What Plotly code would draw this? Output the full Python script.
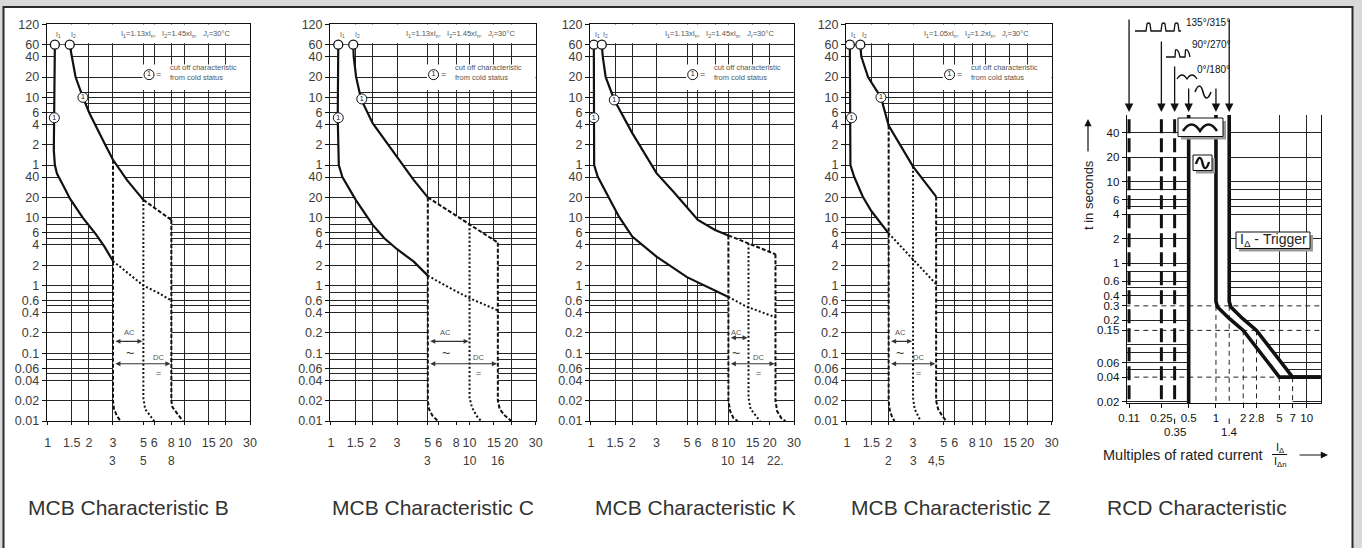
import re
import numpy as np
import plotly.graph_objects as go

W, H = 1362, 548
def px(x): return x / W
def py(y): return 1 - y / H
def lg(v): return float(np.log10(v))

FONT = "Liberation Sans, Arial, Helvetica, sans-serif"
INK = "#111111"
GRID = "#262626"
TXT = "#3c3c3c"

# ======================= DATA =======================
# shared MCB axes (time in seconds; upper part labelled in minutes)
mcb_ytick_vals = [7200, 3600, 2400, 1200, 600, 360, 240, 120, 60, 40, 20, 10, 6, 4, 2, 1,
                  0.6, 0.4, 0.2, 0.1, 0.06, 0.04, 0.02, 0.01]
mcb_ytick_text = ["120", "60", "40", "20", "10", "6", "4", "2", "1", "40", "20", "10", "6", "4",
                  "2", "1", "0.6", "0.4", "0.2", "0.1", "0.06", "0.04", "0.02", "0.01"]
mcb_ygrid_minor = [720, 480, 8, 5, 0.8, 0.5, 0.08, 0.05]
mcb_xtick_vals = [1, 1.5, 2, 3, 5, 6, 8, 10, 15, 20, 30]
mcb_xtick_text = ["1", "1.5", "2", "3", "5", "6", "8", "10", "15", "20", "30"]
mcb_xrange = [0.985, 30]
mcb_yrange = [0.01, 7200]
mcb_I_t = 3600
mcb_legend_x, mcb_legend_t = 5.5, 1300
mcb_legend_box = [4.93, 770, 1830]   # x-start, t-low, t-high of the legend panel

# --- Characteristic B ---
B_lower_x = [1.13, 1.12, 1.11, 1.13, 1.17, 1.30, 1.46, 1.81, 2.24, 2.6, 3.0]
B_lower_t = [3600, 300, 100, 60, 45, 30, 19, 10, 5.8, 3.75, 2.3]
B_lower_ext_x = [3.0, 3.9, 5.0, 6.5, 8.0]
B_lower_ext_t = [2.3, 1.48, 1.0, 0.77, 0.6]
B_upper_x = [1.45, 1.5, 1.6, 1.81, 2.02, 2.6, 3.0, 3.8, 4.8, 5.0]
B_upper_t = [3600, 2400, 1200, 600, 350, 126, 72, 36, 20.6, 18.4]
B_upper_ext_x = [5.0, 6.5, 8.0]
B_upper_ext_t = [18.4, 12.5, 9.3]
B_v1_x = [3.0, 3.0, 3.05, 3.2, 3.4];  B_v1_t = [72, 0.02, 0.015, 0.012, 0.01]
B_v2_x = [5.0, 5.0, 5.15, 5.6, 6.0];  B_v2_t = [18.4, 0.022, 0.015, 0.012, 0.01]
B_v3_x = [8.0, 8.0, 8.15, 8.8, 9.7];  B_v3_t = [9.3, 0.02, 0.016, 0.013, 0.01]
B_I = [1.13, 1.45]
B_cold_x = [1.12, 1.81]; B_cold_t = [300, 600]
B_marks = [3, 5, 8]; B_marks_text = ["3", "5", "8"]
B_header = ["1.13", "1.45"]
B_ac = [3, 5, 0.15]; B_dc = [3, 8, 0.07]
B_ac_label_x = 3.97; B_dc_label_x = 6.4

# --- Characteristic C ---
C_lower_x = [1.13, 1.12, 1.14, 1.21, 1.51, 2.0, 2.43, 3.0, 3.96, 5.0]
C_lower_t = [3600, 300, 60, 40, 18.4, 7.85, 5.0, 3.44, 2.25, 1.4]
C_lower_ext_x = [5, 7, 10, 13, 16]
C_lower_ext_t = [1.4, 0.95, 0.65, 0.52, 0.43]
C_upper_x = [1.45, 1.46, 1.52, 1.65, 2.0, 3.0, 3.96, 5.0]
C_upper_t = [3600, 2400, 1200, 565, 250, 80, 36, 20]
C_upper_ext_x = [5, 7, 10, 16]
C_upper_ext_t = [20, 12.9, 8.1, 4.3]
C_v1_x = [5, 5, 5.1, 5.4, 5.9];       C_v1_t = [20, 0.02, 0.015, 0.012, 0.01]
C_v2_x = [10, 10, 10.4, 11.2, 12.1];  C_v2_t = [8.1, 0.022, 0.016, 0.012, 0.01]
C_v3_x = [16, 16, 16.5, 18, 20];      C_v3_t = [4.3, 0.02, 0.015, 0.012, 0.01]
C_I = [1.13, 1.45]
C_cold_x = [1.13, 1.67]; C_cold_t = [300, 570]
C_marks = [5, 10, 16]; C_marks_text = ["3", "10", "16"]
C_header = ["1.13", "1.45"]
C_ac = [5, 10, 0.15]; C_dc = [5, 16, 0.07]
C_ac_label_x = 6.75; C_dc_label_x = 11.6

# --- Characteristic K ---
K_lower_x = [1.05, 1.05, 1.056, 1.12, 1.37, 1.6, 2.0, 3.0, 5.0, 10.0]
K_lower_t = [3600, 300, 60, 40.6, 18.4, 10.4, 5.3, 2.67, 1.33, 0.68]
K_lower_ext_x = [10, 13.5, 22]
K_lower_ext_t = [0.68, 0.49, 0.34]
K_upper_x = [1.2, 1.22, 1.28, 1.48, 2.0, 3.0, 4.0, 5.0, 6.0, 8.0, 10.0]
K_upper_t = [3600, 2400, 1200, 550, 178, 45.6, 24, 14, 9.3, 6.6, 5.5]
K_upper_ext_x = [10, 14, 22]
K_upper_ext_t = [5.5, 4.2, 2.9]
K_v1_x = [10, 10, 10.3, 10.9, 11.7];  K_v1_t = [5.5, 0.02, 0.014, 0.011, 0.01]
K_v2_x = [14, 14, 14.5, 15.7, 17];    K_v2_t = [4.2, 0.022, 0.015, 0.012, 0.01]
K_v3_x = [22, 22, 22.6, 24.3, 26];    K_v3_t = [2.9, 0.02, 0.014, 0.011, 0.01]
K_I = [1.05, 1.2]
K_cold_x = [1.05, 1.48]; K_cold_t = [300, 550]
K_marks = [10, 14, 22]; K_marks_text = ["10", "14", "22."]
K_header = ["1.13", "1.45"]
K_ac = [10, 14, 0.17]; K_dc = [10, 22, 0.07]
K_ac_label_x = 11.4; K_dc_label_x = 16.5

# --- Characteristic Z ---
Z_lower_x = [1.05, 1.05, 1.06, 1.13, 1.30, 1.5, 1.76, 2.0]
Z_lower_t = [3600, 300, 60, 40, 20.6, 12.6, 8.3, 5.9]
Z_lower_ext_x = [2, 3, 4.4]
Z_lower_ext_t = [5.9, 2.39, 1.05]
Z_upper_x = [1.25, 1.27, 1.42, 1.76, 2.0, 3.0, 4.4]
Z_upper_t = [3600, 2400, 1200, 600, 230, 57, 20.6]
Z_upper_ext_x = []
Z_upper_ext_t = []
Z_v1_x = [2, 2, 2.03, 2.1, 2.2];       Z_v1_t = [230, 0.02, 0.015, 0.012, 0.01]
Z_v2_x = [3, 3, 3.08, 3.25, 3.4];      Z_v2_t = [57, 0.022, 0.015, 0.012, 0.01]
Z_v3_x = [4.4, 4.4, 4.55, 4.85, 5.2];  Z_v3_t = [20.6, 0.02, 0.015, 0.012, 0.01]
Z_I = [1.05, 1.25]
Z_cold_x = [1.08, 1.76]; Z_cold_t = [300, 600]
Z_marks = [2, 3, 4.4]; Z_marks_text = ["2", "3", "4,5"]
Z_header = ["1.05", "1.2"]
Z_ac = [2, 3, 0.15]; Z_dc = [2, 4.4, 0.07]
Z_ac_label_x = 2.43; Z_dc_label_x = 3.3

# --- RCD characteristic ---
rcd_ytick_vals = [40, 20, 10, 6, 4, 2, 1, 0.6, 0.4, 0.3, 0.2, 0.15, 0.06, 0.04, 0.02]
rcd_ytick_text = ["40", "20", "10", "6", "4", "2", "1", "0.6", "0.4", "0.3", "0.2", "0.15",
                  "0.06", "0.04", "0.02"]
rcd_ygrid = [40, 20, 10, 8, 6, 5, 4, 2, 1, 0.8, 0.6, 0.5, 0.4, 0.2, 0.1, 0.08, 0.06, 0.05, 0.02]
rcd_xtick_vals = [0.11, 0.25, 0.5, 1, 2, 2.8, 5, 7, 10]
rcd_xtick_text = ["0.11", "0.25", "0.5", "1", "2", "2.8", "5", "7", "10"]
rcd_xtick_row2 = [0.35, 1.4]
rcd_xgrid = [5, 10]
rcd_xrange = [0.1036, 14.3]
rcd_yrange = [0.0191, 66]
rcd_span_t = [100, 0.01]
rcd_span_x = [0.1, 15]
rcd_pulse_x = [0.11, 0.25, 0.35]
rcd_limit_x = 0.5
rcd_inner_x = [1, 1, 1.04, 1.15, 1.4, 2, 3, 4, 5, 15]
rcd_inner_t = [100, 0.34, 0.29, 0.26, 0.21, 0.15, 0.084, 0.055, 0.04, 0.04]
rcd_outer_x = [1.4, 1.4, 1.46, 1.61, 1.96, 2.8, 4.2, 5.6, 7, 15]
rcd_outer_t = [100, 0.34, 0.29, 0.26, 0.21, 0.15, 0.084, 0.055, 0.04, 0.04]
rcd_ref_t = [0.3, 0.15, 0.04]
rcd_ref_x = [1, 1.4, 2, 2.8, 5, 7]
rcd_ref_xt = [0.3, 0.3, 0.15, 0.15, 0.04, 0.04]
rcd_arrow_x = [0.11, 0.25, 0.35, 0.5, 1, 1.4]

titles = ["MCB Characteristic B", "MCB Characteristic C", "MCB Characteristic K",
          "MCB Characteristic Z", "RCD Characteristic"]

# ======================= LAYOUT HELPERS =======================
def P(name):
    g = globals()
    keys = ["lower_x", "lower_t", "lower_ext_x", "lower_ext_t", "upper_x", "upper_t",
            "upper_ext_x", "upper_ext_t", "v1_x", "v1_t", "v2_x", "v2_t", "v3_x", "v3_t",
            "I", "cold_x", "cold_t", "marks", "marks_text", "header", "ac", "dc",
            "ac_label_x", "dc_label_x"]
    return {k: g[f"{name}_{k}"] for k in keys}

mcb_panels = [
    dict(d=P("B"), left=46.7, right=250.0, title_x=26),
    dict(d=P("C"), left=330.0, right=535.7, title_x=330),
    dict(d=P("K"), left=590.0, right=794.0, title_x=593),
    dict(d=P("Z"), left=846.0, right=1051.7, title_x=849),
]
MCB_TOP, MCB_BOT = 24.3, 421.0

fig = go.Figure()
layout = {}
annotations = []
shapes = []

def line(xs, ts, xa, ya, width=2.2, dash=None, color=INK):
    fig.add_trace(go.Scatter(x=xs, y=ts, xaxis=xa, yaxis=ya, mode="lines",
                             line=dict(color=color, width=width, dash=dash),
                             hoverinfo="skip", showlegend=False))

def white_fill(xs, ts, xa, ya):
    fig.add_trace(go.Scatter(x=xs, y=ts, xaxis=xa, yaxis=ya, mode="lines",
                             fill="toself", fillcolor="white",
                             line=dict(width=0, color="white"),
                             hoverinfo="skip", showlegend=False))

def ppath(s):
    return re.sub(r"(-?\d+(?:\.\d+)?),(-?\d+(?:\.\d+)?)",
                  lambda m: f"{px(float(m.group(1))):.5f},{py(float(m.group(2))):.5f}", s)

DASH = "4px,2px"
DOT = "2px,2.2px"

# ======================= MCB PANELS =======================
for i, p in enumerate(mcb_panels, start=1):
    d = p["d"]
    sfx = "" if i == 1 else str(i)
    xa, ya = "x" + sfx, "y" + sfx
    tickfont = dict(family=FONT, size=12.5, color=TXT)
    layout["xaxis" + sfx] = dict(
        type="log", range=[lg(mcb_xrange[0]), lg(mcb_xrange[1])],
        domain=[px(p["left"]), px(p["right"])], anchor=ya, automargin=False,
        tickmode="array", tickvals=mcb_xtick_vals, ticktext=mcb_xtick_text, tickangle=0,
        showgrid=True, gridcolor=GRID, gridwidth=1,
        showline=True, mirror=True, linecolor=INK, linewidth=1,
        ticks="outside", ticklen=3, tickcolor=INK, tickfont=tickfont,
        ticklabelstandoff=7, zeroline=False, fixedrange=True)
    layout["yaxis" + sfx] = dict(
        type="log", range=[lg(mcb_yrange[0]), lg(mcb_yrange[1])],
        domain=[py(MCB_BOT), py(MCB_TOP)], anchor=xa, automargin=False,
        tickmode="array", tickvals=mcb_ytick_vals, ticktext=mcb_ytick_text,
        showgrid=True, gridcolor=GRID, gridwidth=1,
        minor=dict(tickmode="array", tickvals=mcb_ygrid_minor, showgrid=True,
                   gridcolor=GRID, gridwidth=1, ticks=""),
        showline=True, mirror=True, linecolor=INK, linewidth=1,
        ticks="outside", ticklen=4, tickcolor=INK, tickfont=tickfont,
        zeroline=False, fixedrange=True)

    # white masks: strip above the 60-min line and the legend panel
    x0, x1 = mcb_xrange
    white_fill([x0, x1, x1, x0], [3780, 3780, mcb_yrange[1], mcb_yrange[1]], xa, ya)
    lb = mcb_legend_box
    white_fill([lb[0], x1, x1, lb[0]], [lb[1], lb[1], lb[2], lb[2]], xa, ya)

    # tripping band (white area hides the grid)
    poly_x = d["lower_x"] + d["v1_x"][1:] + d["v3_x"][::-1] + d["upper_ext_x"][::-1] + d["upper_x"][::-1]
    poly_t = d["lower_t"] + d["v1_t"][1:] + d["v3_t"][::-1] + d["upper_ext_t"][::-1] + d["upper_t"][::-1]
    white_fill(poly_x, poly_t, xa, ya)

    line(d["lower_x"], d["lower_t"], xa, ya)
    line(d["upper_x"], d["upper_t"], xa, ya)
    line(d["lower_ext_x"], d["lower_ext_t"], xa, ya, width=2, dash=DOT)
    if d["upper_ext_x"]:
        line(d["upper_ext_x"], d["upper_ext_t"], xa, ya, width=2, dash=DASH)
    line(d["v1_x"], d["v1_t"], xa, ya, width=2, dash=DASH)
    line(d["v2_x"], d["v2_t"], xa, ya, width=2, dash=DOT)
    line(d["v3_x"], d["v3_t"], xa, ya, width=2, dash=DASH)

    # I1 / I2 markers
    fig.add_trace(go.Scatter(x=d["I"], y=[mcb_I_t] * len(d["I"]), xaxis=xa, yaxis=ya,
                             mode="markers", hoverinfo="skip", showlegend=False,
                             marker=dict(symbol="circle", size=9, color="white",
                                         line=dict(color=INK, width=1.3))))
    # cold-status circles (+ legend circle)
    cx = d["cold_x"] + [mcb_legend_x]
    ct = d["cold_t"] + [mcb_legend_t]
    fig.add_trace(go.Scatter(x=cx, y=ct, xaxis=xa, yaxis=ya, mode="markers+text",
                             text=["1"] * len(cx), textposition="middle center",
                             textfont=dict(family=FONT, size=7, color=INK),
                             hoverinfo="skip", showlegend=False,
                             marker=dict(symbol="circle", size=10, color="white",
                                         line=dict(color=INK, width=1))))

    small = dict(family=FONT, size=7.5, color="#555555")
    for k, lab in enumerate(["I<sub>1</sub>", "I<sub>2</sub>"]):
        annotations.append(dict(xref=xa, yref=ya, x=lg(d["I"][k]), y=lg(mcb_I_t), text=lab,
                                showarrow=False, xshift=4, yshift=10,
                                font=dict(family=FONT, size=7, color="#555555")))
    h1, h2 = d["header"]
    annotations.append(dict(xref=xa + " domain", yref=ya + " domain", x=0.635, y=0.975,
                            text=f"I<sub>1</sub>={h1}xI<sub>n</sub>,   I<sub>2</sub>={h2}xI<sub>n</sub>,   J<sub>r</sub>=30°C",
                            showarrow=False, font=small))
    annotations.append(dict(xref=xa, yref=ya, x=lg(mcb_legend_x), y=lg(mcb_legend_t), text="=",
                            showarrow=False, xanchor="left", xshift=5, yshift=1,
                            font=dict(family=FONT, size=9, color="#444444")))
    annotations.append(dict(xref=xa, yref=ya, x=lg(mcb_legend_x), y=lg(mcb_legend_t),
                            text="cut off characteristic<br>from cold status", align="left",
                            showarrow=False, xanchor="left", xshift=19, yshift=2, font=small))

    # AC / DC ranges
    for (a, b, t) in [d["ac"], d["dc"]]:
        annotations.append(dict(xref=xa, yref=ya, axref=xa, ayref=ya, x=lg(b), y=lg(t),
                                ax=lg(a), ay=lg(t), text="", showarrow=True,
                                arrowside="end+start", arrowhead=2, startarrowhead=2,
                                arrowsize=0.9, startarrowsize=0.9, arrowwidth=1.1,
                                arrowcolor="#333333", standoff=1, startstandoff=1))
    annotations.append(dict(xref=xa, yref=ya, x=lg(d["ac_label_x"]), y=lg(0.2), text="AC",
                            showarrow=False, font=small))
    annotations.append(dict(xref=xa, yref=ya, x=lg(d["ac_label_x"]), y=lg(0.102), text="~",
                            showarrow=False, font=dict(family=FONT, size=14, color="#333333")))
    annotations.append(dict(xref=xa, yref=ya, x=lg(d["dc_label_x"]), y=lg(0.088), text="DC",
                            showarrow=False, font=small))
    annotations.append(dict(xref=xa, yref=ya, x=lg(d["dc_label_x"]), y=lg(0.052), text="=",
                            showarrow=False, font=dict(family=FONT, size=9, color="#444444")))

    # second row of x labels
    for v, tx in zip(d["marks"], d["marks_text"]):
        annotations.append(dict(xref=xa, yref="paper", x=lg(v), y=py(461), text=tx,
                                showarrow=False, font=dict(family=FONT, size=12, color=TXT)))
    annotations.append(dict(xref="paper", yref="paper", x=px(p["title_x"]), y=py(507),
                            xanchor="left", text=titles[i - 1], showarrow=False,
                            font=dict(family=FONT, size=21, color="#333333")))

# ======================= RCD PANEL =======================
xa, ya = "x5", "y5"
rfont = dict(family=FONT, size=11.5, color=INK)
layout["xaxis5"] = dict(
    type="log", range=[lg(rcd_xrange[0]), lg(rcd_xrange[1])],
    domain=[px(1126.7), px(1320.7)], anchor=ya, automargin=False,
    tickmode="array", tickvals=rcd_xtick_vals, ticktext=rcd_xtick_text, tickangle=0,
    showgrid=False,
    minor=dict(tickmode="array", tickvals=rcd_xgrid, showgrid=True, gridcolor=GRID,
               gridwidth=1, ticks=""),
    showline=True, mirror=False, linecolor=INK, linewidth=1,
    ticks="outside", ticklen=4, tickcolor=INK, tickfont=rfont, zeroline=False, fixedrange=True)
layout["yaxis5"] = dict(
    type="log", range=[lg(rcd_yrange[0]), lg(rcd_yrange[1])],
    domain=[py(403.3), py(115)], anchor=xa, automargin=False,
    tickmode="array", tickvals=rcd_ytick_vals, ticktext=rcd_ytick_text,
    showgrid=False,
    minor=dict(tickmode="array", tickvals=rcd_ygrid, showgrid=True, gridcolor=GRID,
               gridwidth=1, ticks=""),
    showline=True, mirror=True, linecolor=INK, linewidth=1,
    ticks="outside", ticklen=4, tickcolor=INK, tickfont=rfont, zeroline=False, fixedrange=True)

# white region between 0.5·IΔn limit and the tripping curves
rp_x = [rcd_limit_x, rcd_limit_x, rcd_outer_x[-2]] + rcd_outer_x[-2::-1]
rp_t = [rcd_span_t[0], rcd_span_t[1], rcd_span_t[1]] + rcd_outer_t[-2::-1]
white_fill(rp_x, rp_t, xa, ya)
# reference (dashed) lines
for t in rcd_ref_t:
    line(rcd_span_x, [t, t], xa, ya, width=1, dash="5px,4px", color="#222222")
for xv, t in zip(rcd_ref_x, rcd_ref_xt):
    line([xv, xv], [t, rcd_span_t[1]], xa, ya, width=1, dash="5px,4px", color="#222222")
# pulsating DC response lines
for xv in rcd_pulse_x:
    line([xv, xv], rcd_span_t, xa, ya, width=3, dash="14px,5px")
line([rcd_limit_x, rcd_limit_x], rcd_span_t, xa, ya, width=3.6)
line(rcd_inner_x, rcd_inner_t, xa, ya, width=3.6)
line(rcd_outer_x, rcd_outer_t, xa, ya, width=3.6)

# second row x labels
for v in rcd_xtick_row2:
    annotations.append(dict(xref=xa, yref="paper", x=lg(v), y=py(418.5), text=str(v),
                            showarrow=True, arrowhead=0, ax=0, ay=13, arrowwidth=1,
                            arrowcolor=INK, standoff=0, font=rfont))
# arrows at top
arrow_start = [18, 40, 65, 87, 87, 18]
for v, s in zip(rcd_arrow_x, arrow_start):
    annotations.append(dict(xref=xa, yref="paper", x=lg(v), y=py(112), ax=0, ay=-(112 - s),
                            text="", showarrow=True, arrowhead=2, arrowsize=1.3,
                            arrowwidth=1.3, arrowcolor=INK, standoff=0))
wav = dict(family=FONT, size=10, color=INK)
annotations += [
    dict(xref="paper", yref="paper", x=px(1184), y=py(23), xanchor="left", text="135°/315°", showarrow=False, font=wav),
    dict(xref="paper", yref="paper", x=px(1190), y=py(44.5), xanchor="left", text="90°/270°", showarrow=False, font=wav),
    dict(xref="paper", yref="paper", x=px(1195), y=py(69.5), xanchor="left", text="0°/180°", showarrow=False, font=wav),
]
icon = dict(color=INK, width=1.3)
shapes += [
    dict(type="path", xref="paper", yref="paper", layer="above", line=icon,
         path=ppath("M1135,31 L1146,31 L1147,24 Q1148.5,22 1150,24 L1151,31 L1161,31 L1162,24 "
                    "Q1163.5,22 1165,24 L1166,31 L1174,31 L1175,24 Q1176.5,22 1178,24 L1179,31 L1181,31")),
    dict(type="path", xref="paper", yref="paper", layer="above", line=icon,
         path=ppath("M1166,57 L1175,57 L1175.5,50 Q1177,48.5 1179,53 L1180,57 L1185,57 "
                    "L1185.5,50 Q1187,48.5 1189,53 L1190,57")),
    dict(type="path", xref="paper", yref="paper", layer="above", line=icon,
         path=ppath("M1177,79 Q1182,71 1187,79 Q1192,71 1197,79")),
    dict(type="path", xref="paper", yref="paper", layer="above", line=dict(color=INK, width=1.6),
         path=ppath("M1195,92 C1198,84 1201,84 1203,92 C1205,100 1208,100 1211,92")),
    # box 1 with shadow
    dict(type="rect", xref="paper", yref="paper", layer="above", x0=px(1181), x1=px(1226),
         y0=py(139.5), y1=py(121), fillcolor="#9a9a9a", line=dict(width=0)),
    dict(type="rect", xref="paper", yref="paper", layer="above", x0=px(1178), x1=px(1223),
         y0=py(136.5), y1=py(118), fillcolor="white", line=dict(color=INK, width=1)),
    dict(type="path", xref="paper", yref="paper", layer="above", line=dict(color=INK, width=2.6),
         path=ppath("M1183,131 Q1191.5,118 1200,131 Q1208.5,118 1217,131")),
    # box 2 with shadow
    dict(type="rect", xref="paper", yref="paper", layer="above", x0=px(1196), x1=px(1215),
         y0=py(173.5), y1=py(158), fillcolor="#9a9a9a", line=dict(width=0)),
    dict(type="rect", xref="paper", yref="paper", layer="above", x0=px(1193), x1=px(1212),
         y0=py(170.5), y1=py(155), fillcolor="white", line=dict(color=INK, width=1)),
    dict(type="path", xref="paper", yref="paper", layer="above", line=dict(color=INK, width=2.4),
         path=ppath("M1196,164 C1198.5,156 1201,156 1202.5,163 C1204,170 1206.5,170 1209,162")),
    # trigger box shadow + box
    dict(type="rect", xref="paper", yref="paper", layer="above", x0=px(1239), x1=px(1313),
         y0=py(251.5), y1=py(235), fillcolor="#9a9a9a", line=dict(width=0)),
    dict(type="rect", xref="paper", yref="paper", layer="above", x0=px(1236), x1=px(1310),
         y0=py(248.5), y1=py(232), fillcolor="white", line=dict(color=INK, width=1)),
    # fraction bar of IΔ / IΔn
    dict(type="line", xref="paper", yref="paper", layer="above", x0=px(1272), x1=px(1287),
         y0=py(454.5), y1=py(454.5), line=dict(color=INK, width=1)),
]
annotations += [
    dict(xref="paper", yref="paper", x=px(1273), y=py(240.5), text="I<sub>Δ</sub> - Trigger",
         showarrow=False, font=dict(family=FONT, size=14, color="#222222")),
    dict(xref="paper", yref="paper", x=px(1088), y=py(195), text="t in seconds", textangle=-90,
         showarrow=False, font=dict(family=FONT, size=13, color="#222222")),
    dict(xref="paper", yref="paper", x=px(1088), y=py(119), ax=0, ay=34, text="",
         showarrow=True, arrowhead=2, arrowsize=1.2, arrowwidth=1.2, arrowcolor=INK),
    dict(xref="paper", yref="paper", x=px(1101), y=py(455), xanchor="left",
         text="Multiples of rated current", showarrow=False,
         font=dict(family=FONT, size=14.5, color="#222222")),
    dict(xref="paper", yref="paper", x=px(1279.5), y=py(447.5), text="I<sub>Δ</sub>",
         showarrow=False, font=dict(family=FONT, size=11, color=INK)),
    dict(xref="paper", yref="paper", x=px(1279.5), y=py(462), text="I<sub>Δn</sub>",
         showarrow=False, font=dict(family=FONT, size=11, color=INK)),
    dict(xref="paper", yref="paper", x=px(1328), y=py(455), ax=-30, ay=0, text="",
         showarrow=True, arrowhead=2, arrowsize=1.2, arrowwidth=1.2, arrowcolor=INK),
    dict(xref="paper", yref="paper", x=px(1105), y=py(507), xanchor="left", text=titles[4],
         showarrow=False, font=dict(family=FONT, size=21, color="#333333")),
]

# explicit anchors (avoid plotly's 'auto' anchoring of paper-referenced text)
for a in annotations:
    a.setdefault("xanchor", "center")
    a.setdefault("yanchor", "middle")

# frame
shapes.insert(0, dict(type="rect", xref="paper", yref="paper", layer="below",
                      x0=px(3.5), x1=px(1352.5), y0=py(570), y1=py(7),
                      fillcolor="white", line=dict(color="#2a2a2a", width=2)))

fig.update_layout(template="none", width=W, height=H, autosize=False,
                  margin=dict(l=0, r=0, t=0, b=0, pad=0),
                  paper_bgcolor="#d9d9d9", plot_bgcolor="white", showlegend=False,
                  font=dict(family=FONT), shapes=shapes, annotations=annotations, **layout)
fig.write_html("out.html")
